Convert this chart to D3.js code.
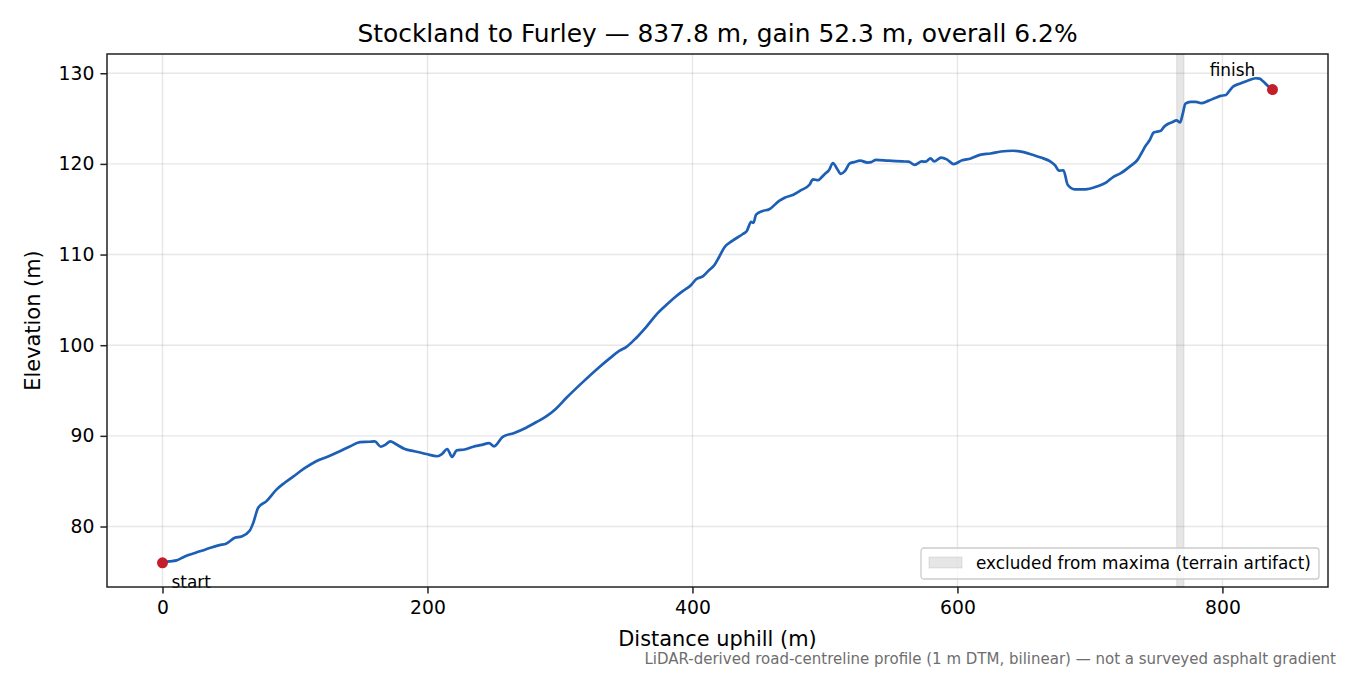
<!DOCTYPE html>
<html>
<head>
<meta charset="utf-8">
<script src="https://cdn.jsdelivr.net/npm/d3@7"></script>
<style>
  body { margin: 0; background: #fff; }
  text { font-family: "DejaVu Sans", sans-serif; fill: #000; }
</style>
</head>
<body>
<svg id="chart" width="1350" height="675"></svg>
<script>
// profile: distance uphill (m) and elevation (m)
var distance = [0, 5, 10.6, 16.8, 25, 33, 43, 48, 54.6, 59.6, 65.9, 68.5, 72.2, 78.5, 86, 92, 98.6, 107, 116, 126.3,
    133.8, 141, 149, 156, 160.2, 164.8, 168, 172, 176, 182.9, 190, 199, 207.5, 211, 214.9, 218.6, 222, 228, 234.5, 241,
    246.5, 250.3, 256.8, 265, 274.5, 282, 289.6, 297, 304.7, 317, 329.8, 338, 345, 350, 357.5, 365, 372.6, 380, 387.7, 393,
    399, 403, 407.8, 412, 416.6, 420, 424.2, 430, 438, 441, 444.3, 446, 448, 453, 458, 465.7, 470, 475.7, 482, 488.3,
    491, 494.9, 498, 500.3, 503, 506, 509, 512, 515, 518.7, 522, 526.7, 532, 535, 538.6, 548, 558.5, 563, 567.8, 573.1,
    576, 579.7, 582.4, 587.7, 592, 597, 603.6, 610, 616.9, 625, 632.8, 642, 650, 656.7, 663, 670, 673.9, 676.5, 680, 683.2,
    688.5, 696.5, 705, 712.4, 717.7, 723, 730, 736.2, 739, 741.6, 745, 748.2, 753.5, 756, 758.8, 762, 765.4, 768.1, 770, 772.1,
    776, 780, 784, 789.3, 795, 798.6, 802.6, 805, 807.9, 813, 818.5, 825.1, 828, 830.4, 834.4, 837.8];
var elevation = [76.0, 76.15, 76.26, 76.7, 77.1, 77.5, 77.95, 78.1, 78.75, 78.9, 79.56, 80.4, 82.06, 82.8, 84.07, 84.8, 85.5, 86.4, 87.2, 87.8,
    88.3, 88.8, 89.3, 89.35, 89.4, 88.8, 89.0, 89.4, 89.1, 88.55, 88.3, 88.0, 87.75, 88.0, 88.55, 87.67, 88.4, 88.5, 88.8, 89.0,
    89.2, 88.85, 89.9, 90.3, 90.9, 91.5, 92.15, 93.0, 94.17, 95.9, 97.6, 98.6, 99.4, 99.8, 100.8, 102.0, 103.35, 104.4, 105.4, 106.0,
    106.65, 107.3, 107.6, 108.2, 108.85, 109.7, 110.8, 111.5, 112.27, 112.6, 113.6, 113.5, 114.4, 114.8, 115.0, 115.95, 116.3, 116.56, 117.1, 117.7,
    118.3, 118.2, 118.6, 118.95, 119.3, 120.1, 119.5, 118.9, 119.2, 120.05, 120.2, 120.35, 120.15, 120.2, 120.45, 120.35, 120.27, 120.25, 119.9, 120.27,
    120.25, 120.6, 120.27, 120.7, 120.5, 119.98, 120.4, 120.6, 121.0, 121.15, 121.37, 121.45, 121.3, 121.0, 120.7, 120.27, 119.8, 119.25, 119.3, 117.7,
    117.2, 117.2, 117.5, 117.96, 118.58, 118.95, 119.7, 120.5, 121.2, 121.9, 122.6, 123.47, 123.65, 124.1, 124.4, 124.6, 124.8, 124.57, 125.5, 126.66,
    126.84, 126.85, 126.7, 126.95, 127.3, 127.5, 127.6, 128.0, 128.5, 128.85, 129.15, 129.45, 129.4, 129.15, 128.6, 128.2];

var xTicks = [0, 200, 400, 600, 800];
var yTicks = [80, 90, 100, 110, 120, 130];
var excludedSpan = [765.5, 771];

var titleText = "Stockland to Furley \u2014 837.8 m, gain 52.3 m, overall 6.2%";
var xLabel = "Distance uphill (m)";
var yLabel = "Elevation (m)";
var legendText = "excluded from maxima (terrain artifact)";
var footText = "LiDAR-derived road-centreline profile (1 m DTM, bilinear) \u2014 not a surveyed asphalt gradient";

var pts = distance.map(function(d, i) { return { x: d, y: elevation[i] }; });

var plotLeft = 107, plotRight = 1328, plotTop = 54, plotBottom = 587;

// matplotlib style 5% padding
function padded(ext) {
    var m = (ext[1] - ext[0]) * 0.05;
    return [ext[0] - m, ext[1] + m];
}

var x = d3.scaleLinear().domain(padded(d3.extent(distance))).range([plotLeft, plotRight]);
var y = d3.scaleLinear().domain(padded(d3.extent(elevation))).range([plotBottom, plotTop]);

var svg = d3.select('#chart');

// grid
var grid = svg.append('g');
grid.selectAll('line.gx').data(xTicks).enter().append('line')
    .attr('x1', function(d) { return x(d); }).attr('x2', function(d) { return x(d); })
    .attr('y1', plotTop).attr('y2', plotBottom)
    .style('stroke', '#b0b0b0').style('stroke-opacity', 0.3).style('stroke-width', 1.4);
grid.selectAll('line.gy').data(yTicks).enter().append('line')
    .attr('y1', function(d) { return y(d); }).attr('y2', function(d) { return y(d); })
    .attr('x1', plotLeft).attr('x2', plotRight)
    .style('stroke', '#b0b0b0').style('stroke-opacity', 0.3).style('stroke-width', 1.4);

// excluded band
svg.append('rect')
    .attr('x', x(excludedSpan[0]))
    .attr('width', x(excludedSpan[1]) - x(excludedSpan[0]))
    .attr('y', plotTop).attr('height', plotBottom - plotTop)
    .style('fill', '#808080').style('fill-opacity', 0.2)
    .style('stroke', '#808080').style('stroke-opacity', 0.2).style('stroke-width', 1);

// profile line
var line = d3.line()
    .x(function(d) { return x(d.x); })
    .y(function(d) { return y(d.y); })
    .curve(d3.curveMonotoneX);

svg.append('path')
    .datum(pts)
    .attr('d', line)
    .style('fill', 'none')
    .style('stroke', '#1c5fb5')
    .style('stroke-width', 2.7)
    .style('stroke-linejoin', 'round');

// start / finish markers
var ends = [pts[0], pts[pts.length - 1]];
svg.selectAll('circle.end').data(ends).enter().append('circle')
    .attr('cx', function(d) { return x(d.x); })
    .attr('cy', function(d) { return y(d.y); })
    .attr('r', 5.5)
    .style('fill', '#c41e2a');

svg.append('text')
    .attr('x', x(ends[0].x) + 9).attr('y', y(ends[0].y) + 25)
    .style('font-size', '16.9px')
    .text('start');
svg.append('text')
    .attr('x', x(ends[1].x) - 40).attr('y', y(ends[1].y) - 14)
    .attr('text-anchor', 'middle')
    .style('font-size', '16.9px')
    .text('finish');

// axes
var xAxis = d3.axisBottom(x).tickValues(xTicks).tickSize(6.6).tickPadding(6);
var yAxis = d3.axisLeft(y).tickValues(yTicks).tickSize(6.6).tickPadding(6);

var gx = svg.append('g').attr('transform', 'translate(0,' + plotBottom + ')').call(xAxis);
var gy = svg.append('g').attr('transform', 'translate(' + plotLeft + ',0)').call(yAxis);
[gx, gy].forEach(function(g) {
    g.select('.domain').remove();
    g.selectAll('.tick line').style('stroke', '#222').style('stroke-width', 1.5);
    g.selectAll('.tick text')
        .style('font-family', '"DejaVu Sans", sans-serif')
        .style('font-size', '18.75px')
        .style('fill', '#000');
});
gx.selectAll('.tick text').attr('dy', '0.78em');

// frame
svg.append('rect')
    .attr('x', plotLeft).attr('y', plotTop)
    .attr('width', plotRight - plotLeft).attr('height', plotBottom - plotTop)
    .style('fill', 'none').style('stroke', '#222').style('stroke-width', 1.5);

// legend
var lg = svg.append('g').attr('transform', 'translate(921,548)');
lg.append('rect')
    .attr('width', 398).attr('height', 31).attr('rx', 3)
    .style('fill', '#fff').style('fill-opacity', 0.8)
    .style('stroke', '#cccccc').style('stroke-width', 1.3);
lg.append('rect')
    .attr('x', 8).attr('y', 9).attr('width', 33).attr('height', 11)
    .style('fill', '#808080').style('fill-opacity', 0.2)
    .style('stroke', '#808080').style('stroke-opacity', 0.2);
lg.append('text')
    .attr('x', 55).attr('y', 20.5)
    .style('font-size', '16.85px')
    .text(legendText);

// labels
svg.append('text')
    .attr('x', (plotLeft + plotRight) / 2).attr('y', 42)
    .attr('text-anchor', 'middle')
    .style('font-size', '24.9px')
    .text(titleText);

svg.append('text')
    .attr('x', (plotLeft + plotRight) / 2).attr('y', 646)
    .attr('text-anchor', 'middle')
    .style('font-size', '20.9px')
    .text(xLabel);

svg.append('text')
    .attr('transform', 'translate(40,' + ((plotTop + plotBottom) / 2) + ') rotate(-90)')
    .attr('text-anchor', 'middle')
    .style('font-size', '20.9px')
    .text(yLabel);

svg.append('text')
    .attr('x', 1336).attr('y', 664)
    .attr('text-anchor', 'end')
    .style('font-size', '15px')
    .style('fill', '#6e6e6e')
    .text(footText);
</script>
</body>
</html>
